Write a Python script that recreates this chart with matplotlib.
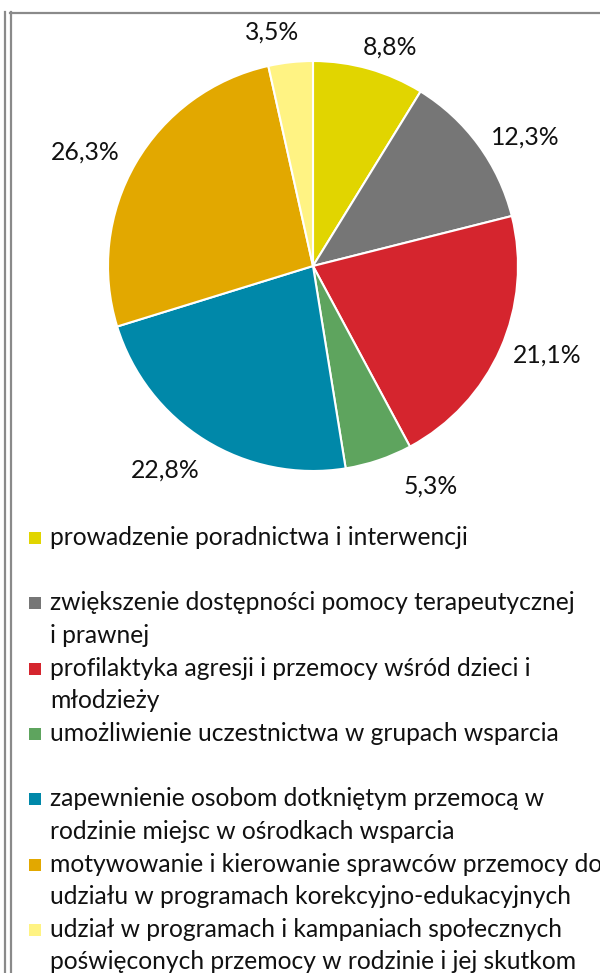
import numpy as np
import matplotlib
matplotlib.use("Agg")
import matplotlib.pyplot as plt
from matplotlib.lines import Line2D
from matplotlib.patches import Rectangle

plt.rcParams['font.family'] = ['Lato', 'DejaVu Sans']

# Shares of each form of help (percent)
categories = [
    "prowadzenie poradnictwa i interwencji",
    "zwiększenie dostępności pomocy terapeutycznej\ni prawnej",
    "profilaktyka agresji i przemocy wśród dzieci i\nmłodzieży",
    "umożliwienie uczestnictwa w grupach wsparcia",
    "zapewnienie osobom dotkniętym przemocą w\nrodzinie miejsc w ośrodkach wsparcia",
    "motywowanie i kierowanie sprawców przemocy do\nudziału w programach korekcyjno-edukacyjnych",
    "udział w programach i kampaniach społecznych\npoświęconych przemocy w rodzinie i jej skutkom",
]
values = [8.8, 12.3, 21.1, 5.3, 22.8, 26.3, 3.5]
colors = ["#E1D500", "#767676", "#D5252E", "#5EA45E", "#0088A9", "#E2A800", "#FFF383"]
# small angular shifts (degrees) for the percentage labels
label_shift = [-3.5, -5.0, 3.0, 9.5, -4.0, 3.5, 3.5]
label_dist = [1.13, 1.21, 1.22, 1.22, 1.23, 1.24, 1.16]

W, H, DPI = 600, 973, 100
fig = plt.figure(figsize=(W / DPI, H / DPI), dpi=DPI)

# full-figure overlay in pixel coordinates
bg = fig.add_axes([0, 0, 1, 1])
bg.set_xlim(0, W)
bg.set_ylim(H, 0)
bg.axis('off')

# cell frame
frame_col = "#8A8A8A"
bg.add_line(Line2D([4.5, 4.5], [12, H], color=frame_col, lw=1.6))
bg.add_line(Line2D([10.8, 10.8], [12, H], color=frame_col, lw=1.6))
bg.add_line(Line2D([10, W], [12.8, 12.8], color=frame_col, lw=1.6))

# pie axes: centre (313, 266) px, radius 205 px
cx, cy, r = 313, 266, 205
lim = 1.3
side = 2 * lim * r
ax = fig.add_axes([(cx - side / 2) / W, 1 - (cy + side / 2) / H, side / W, side / H])
wedges, _ = ax.pie(values, colors=colors, startangle=90, counterclock=False,
                   radius=1.0, wedgeprops=dict(edgecolor='white', linewidth=1.5))
ax.set_xlim(-lim, lim)
ax.set_ylim(-lim, lim)
ax.set_aspect('equal')
ax.axis('off')

for w, v, sh, d in zip(wedges, values, label_shift, label_dist):
    mid = np.deg2rad((w.theta1 + w.theta2) / 2 + sh)
    ax.text(d * np.cos(mid), d * np.sin(mid), f"{v:.1f}".replace('.', ',') + "%",
            ha='center', va='center', fontsize=17.8, color='#111111')

# legend
fs = 17.7
base0, line_h, entry_h = 545, 32.6, 65.3
for i, (lab, col) in enumerate(zip(categories, colors)):
    b = base0 + i * entry_h
    bg.add_patch(Rectangle((29, b - 13), 12, 12, color=col, lw=0))
    for k, line in enumerate(lab.split('\n')):
        bg.text(50, b + k * line_h, line, fontsize=fs, ha='left', va='baseline',
                color='#111111')

fig.savefig("out.png", dpi=DPI)
